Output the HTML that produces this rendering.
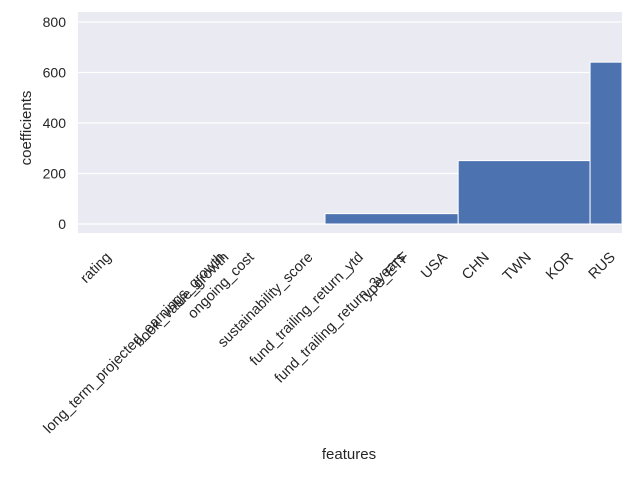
<!DOCTYPE html>
<html><head><meta charset="utf-8"><style>
body{margin:0;background:#fff}
svg{display:block;font-family:"Liberation Sans","DejaVu Sans",sans-serif}
</style></head><body>
<svg id="chart" width="640" height="480">
<rect x="78" y="12" width="544" height="221" fill="#eaeaf2"/>
<g id="grid"></g><g id="bars"></g><g id="yt"></g><g id="xt"></g>
<text x="349" y="459" font-size="15" text-anchor="middle" fill="#262626">features</text>
<text transform="translate(31,128) rotate(-90)" font-size="15" text-anchor="middle" fill="#262626">coefficients</text>
</svg>
<script>
const features=["rating","long_term_projected_earnings_growth","book_value_growth","ongoing_cost","sustainability_score","fund_trailing_return_ytd","fund_trailing_return_3years","type_ETF","USA","CHN","TWN","KOR","RUS"];
const featurePos=[0,2.7,2.8,3.4,4.8,6.0,7.0,7.1,8,9,10,11,12];
const barStart=[5.12,8.29,11.43];
const barWidth=[3.17,3.14,3.14];
const barValues=[41,251,641];
const yTicks=[0,200,400,600,800];
const X0=78,X1=622,xMin=-0.76,xMax=12.19;
const Y0=224,yScale=(224-22)/800;
const xs=v=>X0+(v-xMin)/(xMax-xMin)*(X1-X0);
const ys=v=>Y0-v*yScale;
const NS="http://www.w3.org/2000/svg";
function mk(t,a,p){const e=document.createElementNS(NS,t);for(const k in a)e.setAttribute(k,a[k]);p.appendChild(e);return e;}
const grid=document.getElementById('grid'),yt=document.getElementById('yt'),bars=document.getElementById('bars'),xt=document.getElementById('xt');
yTicks.forEach(v=>{
 const l=mk('line',{x1:X0,x2:X1,y1:ys(v),y2:ys(v),stroke:'#fff','stroke-width':1.2},grid);
 
 
 const t=mk('text',{x:66,y:ys(v)+5,'font-size':14,'text-anchor':'end',fill:'#262626'},yt);
 t.textContent=v;
 
 
});
barValues.forEach((v,i)=>{
 const x=xs(barStart[i]),x2=Math.min(xs(barStart[i]+barWidth[i]),X1);
 const r=mk('rect',{x:x,y:ys(v),width:x2-x,height:ys(0)-ys(v),fill:'#4c72b0',stroke:'#fff','stroke-width':1},bars);
 
 
});
features.forEach((f,i)=>{
 const x=xs(featurePos[i])+2,y=258;
 const t=mk('text',{x:x,y:y,'font-size':14.6,'text-anchor':'end',fill:'#262626',transform:`rotate(-45 ${x} ${y})`},xt);
 t.textContent=f;
 
 
});
</script>
</body></html>
